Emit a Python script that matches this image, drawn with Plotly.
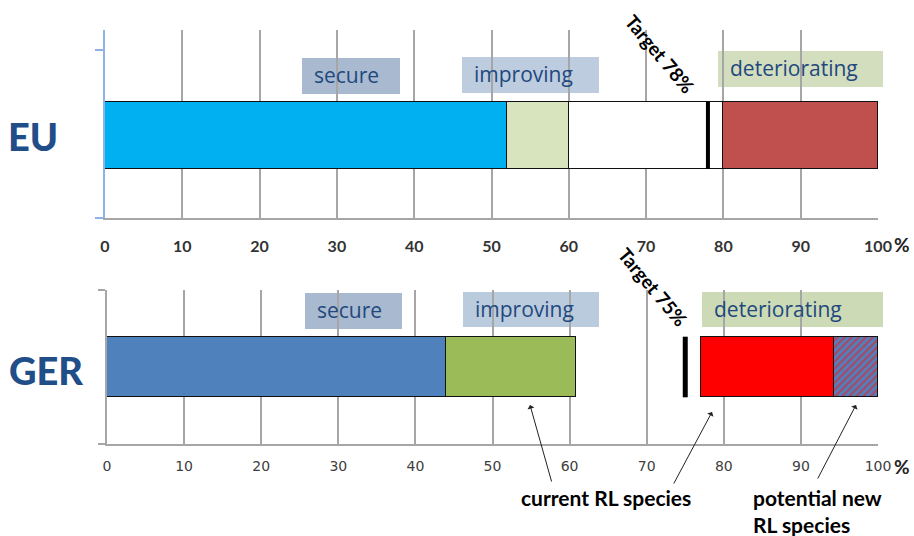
import plotly.graph_objects as go

# ---- data -------------------------------------------------------------
regions = ["EU", "GER"]
status_labels = ["secure", "improving", "deteriorating"]

# EU: shares of species / habitats (%)
eu_secure = 52
eu_improving = 8
eu_unknown = 20
eu_deteriorating = 20
eu_target = 78

# Germany: shares (%)
ger_secure = 44
ger_improving = 16.8
ger_gap = 16.2
ger_deteriorating_current = 17.3
ger_deteriorating_potential = 5.7
ger_target = 75

tick_vals = [0, 10, 20, 30, 40, 50, 60, 70, 80, 90, 100]
tick_text = ["0", "10", "20", "30", "40", "50", "60", "70", "80", "90", "100"]

arrow_labels = ["current RL species", "potential new<br>RL species"]

# ---- layout helpers ----------------------------------------------------
W, H = 914, 536
ML, MR, MT, MB = 105, 36, 30, 92
PW, PH = W - ML - MR, H - MT - MB


def px(x):
    return (x - ML) / PW


def py(y):
    return (H - MB - y) / PH


BAR_W = 0.6
# top panel: plot 30..218 px, bar centre at 135.5 px
top_unit = 67 / BAR_W
top_range = [-(218 - 135.5) / top_unit, (135.5 - 30) / top_unit]
# bottom panel: plot 290..444 px, bar centre at 367 px
bot_unit = 60.6 / BAR_W
bot_range = [-(444 - 367) / bot_unit, (367 - 290) / bot_unit]

fig = go.Figure()

edge = dict(color="#111111", width=1.5)


def hbar(value, color, xa, ya, line=edge, pattern=None):
    marker = dict(color=color, line=line)
    if pattern:
        marker["pattern"] = pattern
    fig.add_trace(go.Bar(
        x=[value], y=[0], orientation="h", width=BAR_W,
        marker=marker, xaxis=xa, yaxis=ya, showlegend=False,
        hoverinfo="skip",
    ))


# EU bar
hbar(eu_secure, "#00B0F0", "x", "y")
hbar(eu_improving, "#D7E4BD", "x", "y")
hbar(eu_unknown, "#FFFFFF", "x", "y")
hbar(eu_deteriorating, "#C0504D", "x", "y")

# GER bar
hbar(ger_secure, "#4F81BD", "x2", "y2")
hbar(ger_improving, "#9BBB59", "x2", "y2")
hbar(ger_gap, "rgba(0,0,0,0)", "x2", "y2", line=dict(width=0))
hbar(ger_deteriorating_current, "#FF0000", "x2", "y2")
hbar(ger_deteriorating_potential, "#4F81BD", "x2", "y2",
     pattern=dict(shape="/", fgcolor="#FF1010", bgcolor="#4F81BD",
                  size=5, solidity=0.45))

shapes = []
# target markers
shapes.append(dict(type="line", xref="x", yref="y",
                   x0=eu_target, x1=eu_target, y0=-BAR_W / 2, y1=BAR_W / 2,
                   line=dict(color="black", width=4)))
shapes.append(dict(type="line", xref="x2", yref="y2",
                   x0=ger_target, x1=ger_target, y0=-BAR_W / 2, y1=BAR_W / 2,
                   line=dict(color="black", width=5)))


def note(x, y, text, size, color, family="Lato", weight="bold", **kw):
    opts = dict(xref="paper", yref="paper", x=px(x), y=py(y),
                xanchor="center", yanchor="middle", text=text,
                showarrow=False,
                font=dict(family=family, size=size, color=color, weight=weight))
    opts.update(kw)
    return opts


# status label boxes (pixel rectangles) and their texts
boxes = [
    (302, 400, 58, 94, "#A9B9D0", status_labels[0]),
    (462, 599, 57, 93, "#BDCCDF", status_labels[1]),
    (718, 883, 51, 87, "#D2DEBD", status_labels[2]),
    (305, 402, 293, 329, "#A9B9D0", status_labels[0]),
    (463, 599, 292, 327, "#BBCBDE", status_labels[1]),
    (702, 883, 292, 327, "#CCDAB6", status_labels[2]),
]
annotations = []
for x0, x1, y0, y1, col, label in boxes:
    shapes.append(dict(type="rect", xref="paper", yref="paper", layer="below",
                       x0=px(x0), x1=px(x1), y0=py(y1), y1=py(y0),
                       fillcolor=col, line=dict(width=0)))
    annotations.append(note(x0 + 10, (y0 + y1) / 2 - 1, label, 21, "#1F497D",
                            family="Open Sans", weight="normal",
                            xanchor="left"))

# region names
for (cx, cy), name in zip([(33, 136), (46, 370)], regions):
    annotations.append(note(cx, cy, name, 38, "#1F4E89", weight=900))

# target labels
for (cx, cy), tgt in zip([(660, 53), (653, 286)], [eu_target, ger_target]):
    annotations.append(note(cx, cy, f"Target {tgt}%", 19, "black",
                            textangle=50))

# percent signs after the last tick label
for cy in (244, 466):
    annotations.append(note(902, cy, "%", 19, "#222222"))

# pointer arrows (head at x/y, tail offset in pixels)
for (hx, hy), (tx, ty) in [((530, 405), (552, 483)),
                           ((712, 412), (673, 485)),
                           ((856, 405), (817, 480))]:
    annotations.append(dict(xref="paper", yref="paper", x=px(hx), y=py(hy),
                            ax=tx - hx, ay=ty - hy, text="", showarrow=True,
                            arrowhead=1, arrowsize=1.2, arrowwidth=1,
                            arrowcolor="#222222", standoff=0, startstandoff=0))

annotations.append(note(606, 498, arrow_labels[0], 21, "black"))
annotations.append(note(751, 511, arrow_labels[1], 21, "black",
                        xanchor="left", align="left"))

grid = dict(showgrid=True, gridcolor="#A6A6A6", gridwidth=1.6,
            tickvals=tick_vals, ticktext=tick_text, range=[0, 100],
            zeroline=False, showline=True, linecolor="#A6A6A6", linewidth=1.6,
            ticks="")

fig.update_layout(
    width=W, height=H,
    margin=dict(l=ML, r=MR, t=MT, b=MB),
    paper_bgcolor="white", plot_bgcolor="white",
    barmode="stack", bargap=0,
    shapes=shapes, annotations=annotations,
    xaxis=dict(domain=[0, 1], anchor="y", **grid, ticklabelstandoff=13,
               tickfont=dict(family="Lato", size=16, color="#333333", weight="bold")),
    yaxis=dict(domain=[py(218), 1], anchor="x", range=top_range,
               showgrid=False, zeroline=False, showticklabels=False,
               showline=True, linecolor="#8EB4E3", linewidth=2,
               ticks="outside", ticklen=8, tickcolor="#8EB4E3", tickwidth=2,
               tickvals=[top_range[0] + 0.002, (135.5 - 50) / top_unit]),
    xaxis2=dict(domain=[px(107), 1], anchor="y2", **grid, ticklabelstandoff=8,
                tickfont=dict(family="DejaVu Sans", size=14, color="#404040")),
    yaxis2=dict(domain=[0, py(290)], anchor="x2", range=bot_range,
                showgrid=False, zeroline=False, showticklabels=False,
                showline=True, linecolor="#A6A6A6", linewidth=2,
                ticks="outside", ticklen=7, tickcolor="#A6A6A6", tickwidth=2,
                tickvals=[bot_range[0] + 0.002, bot_range[1] - 0.002]),
)

fig.write_html("out.html")
